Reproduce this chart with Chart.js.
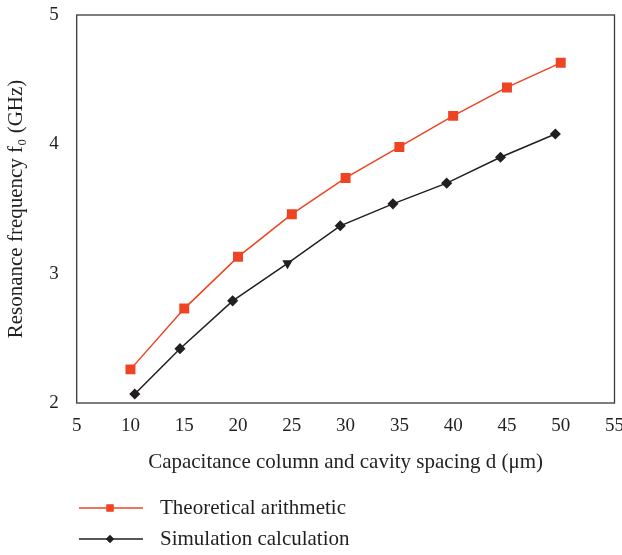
<!DOCTYPE html>
<html lang="en">
<head>
  <meta charset="UTF-8" />
  <title>Resonance frequency vs spacing</title>
  <script src="https://cdn.jsdelivr.net/npm/chart.js"></script>
  <style>
    body {
      margin: 0;
      background: #ffffff;
    }
    .wrap {
      width: 622px;
      height: 555px;
    }
  </style>
</head>
<body>
  <div class="wrap">
    <canvas id="freqChart"></canvas>
  </div>

  <script>
    // data
    const theoryX = [10, 15, 20, 25, 30, 35, 40, 45, 50];
    const theoryY = [2.26, 2.73, 3.13, 3.46, 3.74, 3.98, 4.22, 4.44, 4.63];
    const simX = [10.4, 14.6, 19.5, 24.6, 29.5, 34.4, 39.4, 44.4, 49.5];
    const simY = [2.07, 2.42, 2.79, 3.08, 3.37, 3.54, 3.70, 3.90, 4.08];
    const xTicks = [5, 10, 15, 20, 25, 30, 35, 40, 45, 50, 55];
    const yTicks = [2, 3, 4, 5];
    const seriesNames = ['Theoretical arithmetic', 'Simulation calculation'];

    const RED = '#ef4423';
    const BLACK = '#231f20';
    const FONT = "'Liberation Serif', 'DejaVu Serif', serif";

    const toPoints = (xs, ys) => xs.map((x, i) => ({ x: x, y: ys[i] }));

    // box around plot + legend under the axis title
    const boxAndLegend = {
      id: 'boxAndLegend',
      afterDraw(chart) {
        const { ctx, chartArea } = chart;
        ctx.save();
        ctx.strokeStyle = '#3a3a3a';
        ctx.lineWidth = 1.3;
        ctx.strokeRect(chartArea.left, chartArea.top, chartArea.right - chartArea.left, chartArea.bottom - chartArea.top);

        const rows = [
          { y: 508, color: RED, style: 'rect', r: 5, name: seriesNames[0] },
          { y: 539, color: BLACK, style: 'rectRot', r: 4, name: seriesNames[1] }
        ];
        rows.forEach(row => {
          ctx.strokeStyle = row.color;
          ctx.lineWidth = 1.4;
          ctx.beginPath();
          ctx.moveTo(79, row.y);
          ctx.lineTo(143, row.y);
          ctx.stroke();
          ctx.fillStyle = row.color;
          Chart.helpers.drawPoint(ctx, { pointStyle: row.style, radius: row.r, borderWidth: 0 }, 110, row.y);
          ctx.fill();
          ctx.fillStyle = '#231f20';
          ctx.font = '21px ' + FONT;
          ctx.textBaseline = 'middle';
          ctx.fillText(row.name, 160, row.y);
        });
        ctx.restore();
      }
    };

    const ctx = document.getElementById('freqChart').getContext('2d');

    new Chart(ctx, {
      type: 'scatter',
      data: {
        datasets: [
          {
            label: seriesNames[0],
            data: toPoints(theoryX, theoryY),
            showLine: true,
            borderColor: RED,
            backgroundColor: RED,
            borderWidth: 1.5,
            pointStyle: 'rect',
            pointRadius: 6,
            pointHoverRadius: 6,
            tension: 0
          },
          {
            label: seriesNames[1],
            data: toPoints(simX, simY),
            showLine: true,
            borderColor: BLACK,
            backgroundColor: BLACK,
            borderWidth: 1.5,
            pointStyle: ['rectRot', 'rectRot', 'rectRot', 'triangle', 'rectRot', 'rectRot', 'rectRot', 'rectRot', 'rectRot'],
            rotation: [0, 0, 0, 180, 0, 0, 0, 0, 0],
            pointRadius: 4.5,
            pointHoverRadius: 4.5,
            tension: 0
          }
        ]
      },
      options: {
        responsive: true,
        maintainAspectRatio: false,
        animation: false,
        layout: {
          padding: { top: 0, right: 0, bottom: 80, left: 4 }
        },
        plugins: {
          legend: { display: false },
          tooltip: { enabled: false }
        },
        scales: {
          x: {
            type: 'linear',
            min: 5,
            max: 55,
            afterBuildTicks: axis => { axis.ticks = xTicks.map(v => ({ value: v })); },
            // let the last tick label run close to the edge
            afterFit: axis => { axis.paddingRight = 7; },
            grid: { display: false },
            border: { display: false },
            ticks: {
              color: '#231f20',
              font: { family: FONT, size: 19 },
              padding: 4,
              maxRotation: 0
            },
            title: {
              display: true,
              text: 'Capacitance column and cavity spacing d (\u03BCm)',
              color: '#231f20',
              font: { family: FONT, size: 21 },
              padding: { top: 8, bottom: 0 }
            }
          },
          y: {
            type: 'linear',
            min: 2,
            max: 5,
            afterBuildTicks: axis => { axis.ticks = yTicks.map(v => ({ value: v })); },
            afterFit: axis => { axis.paddingTop = 15; },
            grid: { display: false },
            border: { display: false },
            ticks: {
              color: '#231f20',
              font: { family: FONT, size: 19 },
              padding: 10
            },
            title: {
              display: true,
              text: 'Resonance frequency f\u2080 (GHz)',
              color: '#231f20',
              font: { family: FONT, size: 21 },
              padding: { top: 0, bottom: 10 }
            }
          }
        }
      },
      plugins: [boxAndLegend]
    });
  </script>
</body>
</html>
